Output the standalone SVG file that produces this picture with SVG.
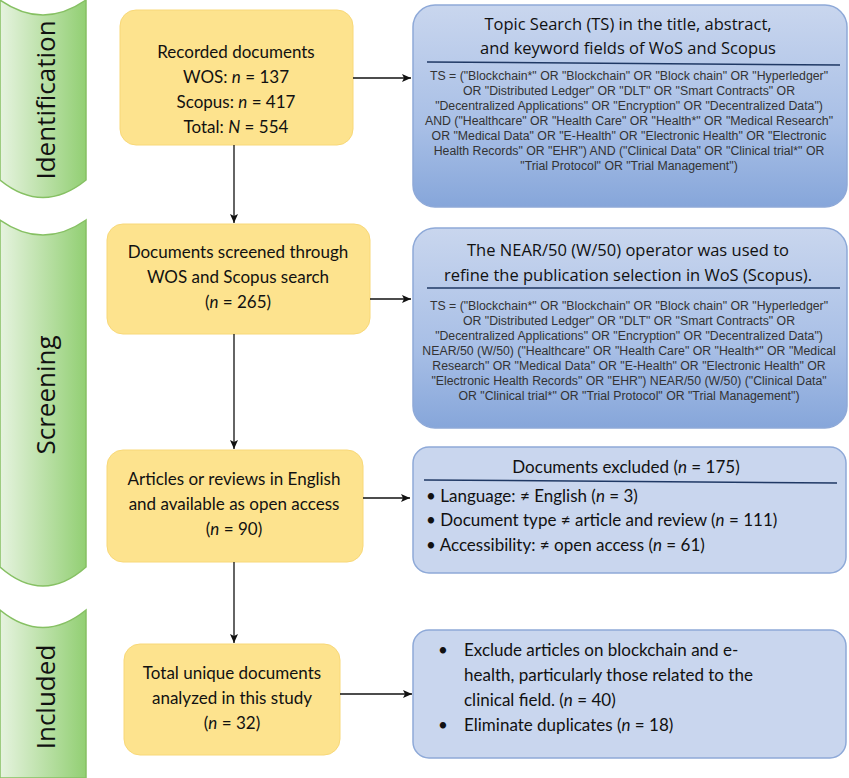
<svg xmlns="http://www.w3.org/2000/svg" width="849" height="778" viewBox="0 0 849 778">
<defs>
<linearGradient id="gr" x1="0" y1="0" x2="1" y2="0"><stop offset="0" stop-color="#e6f3df"/><stop offset="1" stop-color="#92cf73"/></linearGradient>
<linearGradient id="bl" x1="0" y1="0" x2="0" y2="1"><stop offset="0" stop-color="#c9d6ee"/><stop offset="0.6" stop-color="#a8bfe6"/><stop offset="1" stop-color="#86a6da"/></linearGradient>
<marker id="ar" markerWidth="10" markerHeight="10" refX="9" refY="5" orient="auto" markerUnits="userSpaceOnUse"><path d="M0,1 L9,5 L0,9 L2,5 Z" fill="#111"/></marker>
<style>
.ban{fill:url(#gr);stroke:#86c063;stroke-width:1.5}
.bt{font-family:"Open Sans",sans-serif;font-size:26px;fill:#111;text-anchor:middle}
.y{fill:#fde38e;stroke:#f8d878;stroke-width:1}
.yt{font-family:Lato,"Liberation Sans",sans-serif;font-size:17px;fill:#111;text-anchor:middle}
.b1{fill:url(#bl);stroke:#8ea9d8;stroke-width:1.5}
.b2{fill:#c9d6ee;stroke:#8ea9d8;stroke-width:1.5}
.ht{font-family:"Open Sans",sans-serif;font-size:16.5px;fill:#111;text-anchor:middle}
.st{font-family:"Liberation Sans",sans-serif;font-size:12.3px;fill:#333;text-anchor:middle}
.ct{font-family:Lato,"Liberation Sans",sans-serif;font-size:17px;fill:#111}
.ul{stroke:#1f3864;stroke-width:1.5}
.cn{stroke:#111;stroke-width:1.3;fill:none;marker-end:url(#ar)}
</style>
</defs>
<rect width="849" height="778" fill="#fff"/>
<g id="banners">
<path class="ban" d="M0,0 Q43,30 86,0 L86,180 Q43,215 0,180 Z"/>
<text class="bt" transform="translate(55,100) rotate(-90)">Identification</text>
<path class="ban" d="M0,220 Q43,250 86,220 L86,567 Q43,605 0,567 Z"/>
<text class="bt" transform="translate(55,395) rotate(-90)">Screening</text>
<path class="ban" d="M0,610 Q43,645 86,610 L86,778 L0,778 Z"/>
<text class="bt" transform="translate(55,697) rotate(-90)">Included</text>
</g>
<g id="n1"><rect class="y" x="120" y="10" width="233" height="135" rx="16"/>
<text class="yt" x="236" y="58">Recorded documents</text>
<text class="yt" x="236" y="83">WOS: <tspan font-style="italic">n</tspan> = 137</text>
<text class="yt" x="236" y="108">Scopus: <tspan font-style="italic">n</tspan> = 417</text>
<text class="yt" x="236" y="133">Total: <tspan font-style="italic">N</tspan> = 554</text></g>
<g id="n2"><rect class="y" x="107" y="224" width="263" height="110" rx="16"/>
<text class="yt" x="238" y="258">Documents screened through</text>
<text class="yt" x="238" y="283">WOS and Scopus search</text>
<text class="yt" x="238" y="308">(<tspan font-style="italic">n</tspan> = 265)</text></g>
<g id="n3"><rect class="y" x="107" y="450" width="256" height="112" rx="16"/>
<text class="yt" x="234" y="485">Articles or reviews in English</text>
<text class="yt" x="234" y="510">and available as open access</text>
<text class="yt" x="234" y="535">(<tspan font-style="italic">n</tspan> = 90)</text></g>
<g id="n4"><rect class="y" x="124" y="644" width="216" height="111" rx="16"/>
<text class="yt" x="232" y="679">Total unique documents</text>
<text class="yt" x="232" y="704">analyzed in this study</text>
<text class="yt" x="232" y="729">(<tspan font-style="italic">n</tspan> = 32)</text></g>
<g id="a"><rect class="b1" x="413" y="5" width="434" height="202" rx="22"/>
<text class="ht" x="628" y="30">Topic Search (TS) in the title, abstract,</text>
<text class="ht" x="628" y="54">and keyword fields of WoS and Scopus</text>
<line class="ul" x1="427" y1="62" x2="840" y2="65"/>
<text class="st" x="629" y="80">TS = ("Blockchain*" OR "Blockchain" OR "Block chain" OR "Hyperledger"</text>
<text class="st" x="629" y="95">OR "Distributed Ledger" OR "DLT" OR "Smart Contracts" OR</text>
<text class="st" x="629" y="110">"Decentralized Applications" OR "Encryption" OR "Decentralized Data")</text>
<text class="st" x="629" y="125">AND ("Healthcare" OR "Health Care" OR "Health*" OR "Medical Research"</text>
<text class="st" x="629" y="140">OR "Medical Data" OR "E-Health" OR "Electronic Health" OR "Electronic</text>
<text class="st" x="629" y="155">Health Records" OR "EHR")  AND ("Clinical Data" OR "Clinical trial*" OR</text>
<text class="st" x="629" y="170">"Trial Protocol" OR "Trial Management")</text></g>
<g id="b"><rect class="b1" x="413" y="228" width="434" height="200" rx="22"/>
<text class="ht" x="628" y="256">The NEAR/50 (W/50) operator was used to</text>
<text class="ht" x="628" y="281">refine the publication selection in WoS  (Scopus).</text>
<line class="ul" x1="427" y1="288" x2="840" y2="288"/>
<text class="st" x="629" y="310">TS = ("Blockchain*" OR "Blockchain" OR "Block chain" OR "Hyperledger"</text>
<text class="st" x="629" y="325">OR "Distributed Ledger" OR "DLT" OR "Smart Contracts" OR</text>
<text class="st" x="629" y="340">"Decentralized Applications" OR "Encryption" OR "Decentralized Data")</text>
<text class="st" x="629" y="355">NEAR/50 (W/50) ("Healthcare" OR "Health Care" OR "Health*" OR "Medical</text>
<text class="st" x="629" y="370">Research" OR "Medical Data" OR "E-Health" OR "Electronic Health" OR</text>
<text class="st" x="629" y="385">"Electronic Health Records" OR "EHR")  NEAR/50 (W/50) ("Clinical Data"</text>
<text class="st" x="629" y="400">OR "Clinical trial*" OR "Trial Protocol" OR "Trial Management")</text></g>
<g id="c"><rect class="b2" x="413" y="447" width="433" height="126" rx="16"/>
<text class="ct" x="626" y="473" text-anchor="middle">Documents excluded (<tspan font-style="italic">n</tspan> = 175)</text>
<line class="ul" x1="424" y1="480" x2="837" y2="483"/>
<text class="ct" x="426" y="502">•  Language: ≠ English (<tspan font-style="italic">n</tspan> = 3)</text>
<text class="ct" x="426" y="526">•  Document type ≠ article and review (<tspan font-style="italic">n</tspan> = 111)</text>
<text class="ct" x="426" y="551">•  Accessibility: ≠ open access (<tspan font-style="italic">n</tspan> = 61)</text></g>
<g id="d"><rect class="b2" x="413" y="630" width="433" height="128" rx="16"/>
<text class="ct" x="438" y="656">•</text><text class="ct" x="464" y="656">Exclude articles on blockchain and e-</text>
<text class="ct" x="464" y="681">health, particularly those related to the</text>
<text class="ct" x="464" y="706">clinical field. (<tspan font-style="italic">n</tspan> = 40)</text>
<text class="ct" x="438" y="731">•</text><text class="ct" x="464" y="731">Eliminate duplicates (<tspan font-style="italic">n</tspan> = 18)</text></g>
<g id="connectors">
<line class="cn" x1="234" y1="145" x2="234" y2="223"/>
<line class="cn" x1="234" y1="334" x2="234" y2="449"/>
<line class="cn" x1="234" y1="562" x2="234" y2="643"/>
<line class="cn" x1="353" y1="78" x2="411" y2="78"/>
<line class="cn" x1="370" y1="299" x2="411" y2="299"/>
<line class="cn" x1="363" y1="498" x2="410" y2="498"/>
<line class="cn" x1="340" y1="694" x2="412" y2="694"/>
</g>
</svg>
